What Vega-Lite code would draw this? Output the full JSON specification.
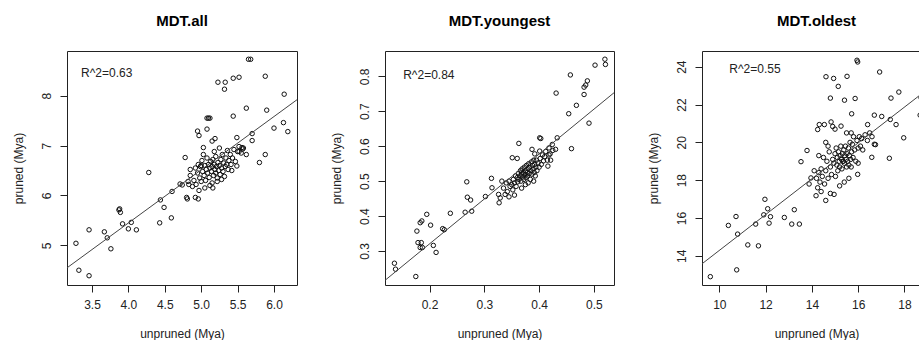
{
  "$schema": "https://vega.github.io/schema/vega-lite/v6.json",
  "padding": {"left": 11, "top": 13, "right": 0, "bottom": 0},
  "autosize": {"type": "pad"},
  "bounds": "flush",
  "spacing": 88,
  "config": {
    "font": "Liberation Sans",
    "view": {"stroke": "#222", "strokeWidth": 1},
    "axis": {"grid": false, "domain": false, "tickColor": "#222", "tickSize": 7, "labelFont": "Liberation Sans", "labelFontSize": 12, "labelColor": "#222", "titleFont": "Liberation Sans", "titleFontSize": 12, "titleFontWeight": "normal", "titleColor": "#222", "labelPadding": 7, "labelFlush": false, "labelOverlap": false},
    "axisY": {"labelAngle": -90, "labelAlign": "center", "labelBaseline": "bottom", "minExtent": 30, "maxExtent": 30, "titlePadding": 12},
    "axisX": {"minExtent": 30, "maxExtent": 30, "titlePadding": 13},
    "title": {"font": "Liberation Sans", "fontSize": 15, "fontWeight": "bold", "color": "#000", "offset": 22, "anchor": "middle"},
    "point": {"shape": "circle", "filled": false, "stroke": "#111", "strokeWidth": 1, "size": 20, "opacity": 1}
  },
  "datasets": {
    "all": [
      {"x":3.28,"y":5.04},{"x":3.32,"y":4.50},{"x":3.46,"y":4.39},{"x":3.46,"y":5.31},{"x":3.67,"y":5.27},{"x":3.71,"y":5.15},{"x":3.76,"y":4.93},{"x":3.87,"y":5.71},{"x":3.89,"y":5.66},{"x":3.88,"y":5.73},
      {"x":3.92,"y":5.43},{"x":4.00,"y":5.33},{"x":4.04,"y":5.46},{"x":4.11,"y":5.31},{"x":4.28,"y":6.46},{"x":4.44,"y":5.91},{"x":4.43,"y":5.45},{"x":4.49,"y":5.76},{"x":4.59,"y":5.55},{"x":4.60,"y":6.08},
      {"x":4.71,"y":6.23},{"x":4.74,"y":6.21},{"x":4.78,"y":6.76},{"x":4.80,"y":5.96},{"x":4.83,"y":6.22},{"x":4.85,"y":6.52},{"x":4.81,"y":5.93},{"x":4.92,"y":5.96},{"x":4.96,"y":5.93},{"x":4.95,"y":7.29},
      {"x":4.97,"y":7.20},{"x":5.03,"y":6.96},{"x":5.08,"y":7.55},{"x":5.12,"y":7.55},{"x":5.10,"y":7.55},{"x":5.08,"y":7.33},{"x":5.15,"y":7.09},{"x":5.19,"y":7.14},{"x":5.23,"y":8.27},{"x":5.33,"y":8.27},
      {"x":5.32,"y":8.13},{"x":5.44,"y":8.35},{"x":5.52,"y":8.37},{"x":5.65,"y":8.73},{"x":5.68,"y":8.73},{"x":5.44,"y":7.59},{"x":5.62,"y":7.75},{"x":5.88,"y":8.39},{"x":5.90,"y":7.71},{"x":6.14,"y":8.03},
      {"x":6.00,"y":7.35},{"x":6.13,"y":7.46},{"x":6.19,"y":7.28},{"x":5.70,"y":7.24},{"x":5.70,"y":7.10},{"x":5.88,"y":6.82},{"x":5.80,"y":6.66},{"x":5.62,"y":6.82},{"x":5.49,"y":7.16},{"x":5.49,"y":6.59},
      {"x":5.56,"y":6.96},{"x":5.57,"y":6.93},{"x":5.52,"y":6.88},
      {"x":4.82,"y":6.28},{"x":4.85,"y":6.40},{"x":4.88,"y":6.18},{"x":4.90,"y":6.30},{"x":4.92,"y":6.55},{"x":4.93,"y":6.22},{"x":4.95,"y":6.45},{"x":4.96,"y":6.62},{"x":4.98,"y":6.35},{"x":4.99,"y":6.58},
      {"x":5.00,"y":6.28},{"x":5.01,"y":6.70},{"x":5.02,"y":6.48},{"x":5.03,"y":6.82},{"x":5.04,"y":6.40},{"x":5.05,"y":6.60},{"x":5.06,"y":6.30},{"x":5.07,"y":6.52},{"x":5.08,"y":6.75},{"x":5.09,"y":6.45},
      {"x":5.10,"y":6.62},{"x":5.11,"y":6.36},{"x":5.12,"y":6.55},{"x":5.13,"y":6.68},{"x":5.14,"y":6.48},{"x":5.15,"y":6.58},{"x":5.15,"y":6.25},{"x":5.16,"y":6.72},{"x":5.17,"y":6.40},{"x":5.18,"y":6.62},
      {"x":5.19,"y":6.52},{"x":5.20,"y":6.45},{"x":5.20,"y":6.78},{"x":5.21,"y":6.58},{"x":5.22,"y":6.35},{"x":5.23,"y":6.66},{"x":5.24,"y":6.50},{"x":5.25,"y":6.60},{"x":5.26,"y":6.42},{"x":5.27,"y":6.72},
      {"x":5.28,"y":6.55},{"x":5.29,"y":6.82},{"x":5.30,"y":6.48},{"x":5.31,"y":6.65},{"x":5.32,"y":6.38},{"x":5.33,"y":6.58},{"x":5.34,"y":6.75},{"x":5.35,"y":6.62},{"x":5.36,"y":6.90},{"x":5.37,"y":6.52},
      {"x":5.38,"y":6.70},{"x":5.40,"y":6.82},{"x":5.41,"y":6.62},{"x":5.43,"y":6.75},{"x":5.45,"y":6.92},{"x":5.47,"y":6.68},{"x":5.50,"y":6.88},{"x":5.52,"y":6.98},{"x":5.55,"y":6.85},{"x":5.58,"y":6.95},
      {"x":5.16,"y":6.15},{"x":5.22,"y":6.28},{"x":5.12,"y":6.20},{"x":5.28,"y":6.32},{"x":5.05,"y":6.15},{"x":4.97,"y":6.10},{"x":5.00,"y":6.60},{"x":5.25,"y":6.95},{"x":5.18,"y":6.88},{"x":5.42,"y":6.50}
    ],
    "young": [
      {"x":0.136,"y":0.265},{"x":0.138,"y":0.248},{"x":0.175,"y":0.227},{"x":0.177,"y":0.357},{"x":0.179,"y":0.324},{"x":0.185,"y":0.324},{"x":0.183,"y":0.310},{"x":0.187,"y":0.310},{"x":0.183,"y":0.381},{"x":0.186,"y":0.386},
      {"x":0.195,"y":0.405},{"x":0.202,"y":0.374},{"x":0.207,"y":0.316},{"x":0.212,"y":0.296},{"x":0.224,"y":0.364},{"x":0.227,"y":0.361},{"x":0.238,"y":0.408},{"x":0.265,"y":0.411},{"x":0.268,"y":0.498},{"x":0.269,"y":0.454},
      {"x":0.275,"y":0.446},{"x":0.277,"y":0.414},{"x":0.302,"y":0.456},{"x":0.313,"y":0.508},{"x":0.314,"y":0.481},{"x":0.326,"y":0.462},{"x":0.327,"y":0.438},{"x":0.332,"y":0.500},{"x":0.329,"y":0.452},{"x":0.351,"y":0.567},
      {"x":0.363,"y":0.608},{"x":0.387,"y":0.591},{"x":0.401,"y":0.624},{"x":0.403,"y":0.622},{"x":0.401,"y":0.586},{"x":0.418,"y":0.575},{"x":0.424,"y":0.605},{"x":0.433,"y":0.624},{"x":0.430,"y":0.591},{"x":0.416,"y":0.543},
      {"x":0.421,"y":0.560},{"x":0.431,"y":0.752},{"x":0.454,"y":0.693},{"x":0.459,"y":0.593},{"x":0.457,"y":0.804},{"x":0.468,"y":0.717},{"x":0.482,"y":0.748},{"x":0.482,"y":0.769},{"x":0.485,"y":0.775},{"x":0.488,"y":0.787},
      {"x":0.491,"y":0.666},{"x":0.502,"y":0.832},{"x":0.520,"y":0.849},{"x":0.521,"y":0.834},
      {"x":0.335,"y":0.480},{"x":0.338,"y":0.462},{"x":0.340,"y":0.495},{"x":0.342,"y":0.470},{"x":0.345,"y":0.500},{"x":0.347,"y":0.485},{"x":0.350,"y":0.490},{"x":0.352,"y":0.475},{"x":0.353,"y":0.505},{"x":0.355,"y":0.495},
      {"x":0.357,"y":0.515},{"x":0.358,"y":0.485},{"x":0.360,"y":0.510},{"x":0.361,"y":0.498},{"x":0.362,"y":0.522},{"x":0.363,"y":0.505},{"x":0.365,"y":0.515},{"x":0.366,"y":0.530},{"x":0.367,"y":0.500},{"x":0.368,"y":0.520},
      {"x":0.369,"y":0.535},{"x":0.370,"y":0.512},{"x":0.371,"y":0.525},{"x":0.372,"y":0.505},{"x":0.373,"y":0.540},{"x":0.374,"y":0.518},{"x":0.375,"y":0.530},{"x":0.376,"y":0.510},{"x":0.377,"y":0.545},{"x":0.378,"y":0.525},
      {"x":0.379,"y":0.515},{"x":0.380,"y":0.535},{"x":0.381,"y":0.550},{"x":0.382,"y":0.522},{"x":0.383,"y":0.540},{"x":0.384,"y":0.505},{"x":0.385,"y":0.530},{"x":0.386,"y":0.555},{"x":0.387,"y":0.520},{"x":0.388,"y":0.545},
      {"x":0.389,"y":0.535},{"x":0.390,"y":0.560},{"x":0.391,"y":0.525},{"x":0.392,"y":0.548},{"x":0.393,"y":0.515},{"x":0.394,"y":0.540},{"x":0.395,"y":0.560},{"x":0.396,"y":0.530},{"x":0.398,"y":0.552},{"x":0.400,"y":0.540},
      {"x":0.402,"y":0.565},{"x":0.404,"y":0.548},{"x":0.406,"y":0.575},{"x":0.408,"y":0.558},{"x":0.410,"y":0.570},{"x":0.412,"y":0.585},{"x":0.415,"y":0.560},{"x":0.418,"y":0.595},{"x":0.420,"y":0.578},{"x":0.425,"y":0.588},
      {"x":0.360,"y":0.565},{"x":0.368,"y":0.480},{"x":0.375,"y":0.490},{"x":0.355,"y":0.460},{"x":0.390,"y":0.500},{"x":0.345,"y":0.455},{"x":0.392,"y":0.578},{"x":0.380,"y":0.495}
    ],
    "old": [
      {"x":9.61,"y":12.90},{"x":10.39,"y":15.61},{"x":10.72,"y":16.08},{"x":10.79,"y":15.15},{"x":10.75,"y":13.26},{"x":11.23,"y":14.58},{"x":11.69,"y":14.53},{"x":11.57,"y":15.68},{"x":11.92,"y":16.17},{"x":11.97,"y":16.99},
      {"x":12.09,"y":16.49},{"x":12.21,"y":16.07},{"x":12.15,"y":15.73},{"x":12.81,"y":16.03},{"x":13.24,"y":16.44},{"x":13.13,"y":15.68},{"x":13.46,"y":15.68},{"x":13.53,"y":18.98},{"x":13.79,"y":19.57},{"x":13.88,"y":17.80},
      {"x":13.96,"y":18.12},{"x":14.18,"y":17.18},{"x":14.25,"y":20.68},{"x":14.32,"y":20.94},{"x":14.54,"y":20.94},{"x":14.61,"y":23.47},{"x":14.94,"y":23.38},{"x":15.14,"y":22.96},{"x":14.83,"y":21.08},{"x":14.80,"y":22.34},
      {"x":15.41,"y":22.23},{"x":15.52,"y":23.49},{"x":15.87,"y":22.32},{"x":15.72,"y":21.51},{"x":15.95,"y":24.34},{"x":15.98,"y":24.25},{"x":16.93,"y":23.72},{"x":17.76,"y":22.66},{"x":17.42,"y":22.34},{"x":18.72,"y":22.36},
      {"x":18.68,"y":21.44},{"x":16.70,"y":21.44},{"x":17.02,"y":21.37},{"x":17.39,"y":21.21},{"x":17.64,"y":20.94},{"x":17.97,"y":20.24},{"x":17.35,"y":19.16},{"x":16.59,"y":19.21},{"x":16.75,"y":19.88},{"x":16.41,"y":20.94},
      {"x":15.98,"y":18.31},{"x":14.60,"y":16.93},{"x":14.96,"y":17.25},{"x":15.35,"y":19.00},{"x":14.90,"y":20.84},{"x":15.26,"y":20.86},
      {"x":14.20,"y":18.10},{"x":14.25,"y":17.60},{"x":14.30,"y":18.40},{"x":14.35,"y":17.90},{"x":14.40,"y":18.60},{"x":14.45,"y":18.20},{"x":14.50,"y":19.20},{"x":14.55,"y":17.80},{"x":14.60,"y":18.50},{"x":14.65,"y":19.00},
      {"x":14.70,"y":18.10},{"x":14.75,"y":19.50},{"x":14.80,"y":18.70},{"x":14.85,"y":18.30},{"x":14.90,"y":19.10},{"x":14.95,"y":18.90},{"x":15.00,"y":19.40},{"x":15.02,"y":18.20},{"x":15.05,"y":19.70},{"x":15.08,"y":18.80},
      {"x":15.10,"y":19.20},{"x":15.12,"y":18.50},{"x":15.15,"y":19.50},{"x":15.18,"y":19.00},{"x":15.20,"y":18.70},{"x":15.22,"y":19.30},{"x":15.25,"y":19.80},{"x":15.28,"y":19.10},{"x":15.30,"y":18.60},{"x":15.32,"y":19.40},
      {"x":15.35,"y":19.00},{"x":15.38,"y":19.60},{"x":15.40,"y":18.90},{"x":15.42,"y":19.30},{"x":15.45,"y":19.80},{"x":15.48,"y":19.10},{"x":15.50,"y":18.70},{"x":15.52,"y":19.40},{"x":15.55,"y":19.00},{"x":15.58,"y":19.70},
      {"x":15.60,"y":18.80},{"x":15.62,"y":19.30},{"x":15.65,"y":20.00},{"x":15.68,"y":19.10},{"x":15.70,"y":18.70},{"x":15.72,"y":19.50},{"x":15.75,"y":19.90},{"x":15.78,"y":19.20},{"x":15.80,"y":20.30},{"x":15.85,"y":19.60},
      {"x":15.90,"y":19.00},{"x":15.95,"y":20.10},{"x":16.00,"y":19.70},{"x":16.05,"y":20.30},{"x":16.10,"y":19.80},{"x":16.15,"y":20.20},{"x":16.20,"y":19.60},{"x":16.30,"y":20.40},{"x":16.40,"y":20.10},{"x":16.50,"y":20.50},
      {"x":16.60,"y":20.30},{"x":16.70,"y":19.90},{"x":14.60,"y":20.00},{"x":14.70,"y":19.80},{"x":15.00,"y":20.70},{"x":15.20,"y":17.70},{"x":15.40,"y":17.90},{"x":15.60,"y":18.10},{"x":14.40,"y":17.40},{"x":14.30,"y":19.30},
      {"x":14.10,"y":18.50},{"x":15.50,"y":20.50},{"x":15.70,"y":20.50},{"x":16.00,"y":18.90},{"x":14.80,"y":17.30}
    ]
  },
  "hconcat": [
    {
      "title": "MDT.all",
      "width": 230,
      "height": 234,
      "encoding": {
        "x": {"field": "x", "type": "quantitative", "title": "unpruned (Mya)", "scale": {"domain": [3.157, 6.316], "nice": false, "zero": false}, "axis": {"values": [3.5, 4.0, 4.5, 5.0, 5.5, 6.0], "format": ".1f"}},
        "y": {"field": "y", "type": "quantitative", "title": "pruned (Mya)", "scale": {"domain": [4.204, 8.896], "nice": false, "zero": false}, "axis": {"values": [5, 6, 7, 8], "format": "d"}}
      },
      "layer": [
        {"data": {"name": "all"}, "mark": {"type": "point"}},
        {"data": {"values": [{"x": 3.157, "y": 4.548}, {"x": 6.316, "y": 7.919}]}, "mark": {"type": "line", "color": "#444", "strokeWidth": 1}},
        {"data": {"values": [{"x": 3.35, "y": 8.46, "label": "R^2=0.63"}]}, "mark": {"type": "text", "align": "left", "baseline": "middle", "fontSize": 12, "font": "Liberation Sans", "color": "#222"}, "encoding": {"text": {"field": "label"}}}
      ]
    },
    {
      "title": "MDT.youngest",
      "width": 229,
      "height": 234,
      "encoding": {
        "x": {"field": "x", "type": "quantitative", "title": "unpruned (Mya)", "scale": {"domain": [0.1188, 0.5366], "nice": false, "zero": false}, "axis": {"values": [0.2, 0.3, 0.4, 0.5], "format": ".1f"}},
        "y": {"field": "y", "type": "quantitative", "title": "pruned (Mya)", "scale": {"domain": [0.2027, 0.8725], "nice": false, "zero": false}, "axis": {"values": [0.3, 0.4, 0.5, 0.6, 0.7, 0.8], "format": ".1f"}}
      },
      "layer": [
        {"data": {"name": "young"}, "mark": {"type": "point"}},
        {"data": {"values": [{"x": 0.1188, "y": 0.216}, {"x": 0.5366, "y": 0.753}]}, "mark": {"type": "line", "color": "#444", "strokeWidth": 1}},
        {"data": {"values": [{"x": 0.152, "y": 0.804, "label": "R^2=0.84"}]}, "mark": {"type": "text", "align": "left", "baseline": "middle", "fontSize": 12, "font": "Liberation Sans", "color": "#222"}, "encoding": {"text": {"field": "label"}}}
      ]
    },
    {
      "title": "MDT.oldest",
      "width": 229,
      "height": 234,
      "encoding": {
        "x": {"field": "x", "type": "quantitative", "title": "unpruned (Mya)", "scale": {"domain": [9.25, 19.15], "nice": false, "zero": false}, "axis": {"values": [10, 12, 14, 16, 18], "format": "d"}},
        "y": {"field": "y", "type": "quantitative", "title": "pruned (Mya)", "scale": {"domain": [12.46, 24.83], "nice": false, "zero": false}, "axis": {"values": [14, 16, 18, 20, 22, 24], "format": "d"}}
      },
      "layer": [
        {"data": {"name": "old"}, "mark": {"type": "point"}},
        {"data": {"values": [{"x": 9.25, "y": 13.58}, {"x": 19.15, "y": 22.95}]}, "mark": {"type": "line", "color": "#444", "strokeWidth": 1}},
        {"data": {"values": [{"x": 10.43, "y": 23.89, "label": "R^2=0.55"}]}, "mark": {"type": "text", "align": "left", "baseline": "middle", "fontSize": 12, "font": "Liberation Sans", "color": "#222"}, "encoding": {"text": {"field": "label"}}}
      ]
    }
  ]
}
